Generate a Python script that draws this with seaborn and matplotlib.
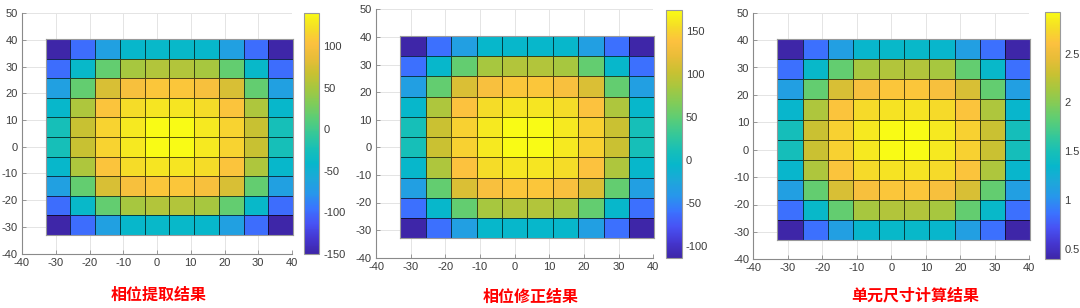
import numpy as np
import matplotlib
matplotlib.use("Agg")
import matplotlib.pyplot as plt
import seaborn as sns
from matplotlib.colors import LinearSegmentedColormap

# ---------------- data ----------------
titles = ["相位提取结果", "相位修正结果", "单元尺寸计算结果"]

x_edges = [-33.0, -25.67, -18.33, -11.0, -3.67, 3.67, 11.0, 18.33, 25.67, 33.0, 40.33]
y_edges = [-33.0, -25.67, -18.33, -11.0, -3.67, 3.67, 11.0, 18.33, 25.67, 33.0, 40.33]

x_ticks = [-40, -30, -20, -10, 0, 10, 20, 30, 40]
y_ticks = [-40, -30, -20, -10, 0, 10, 20, 30, 40, 50]

# rows listed from top (y = 40) to bottom (y = -33)
phase_extracted = [
    [-150, -98, -67, -41, -39, -39, -41, -67, -98, -150],
    [-98, -40, 17, 50, 56, 56, 50, 17, -40, -98],
    [-67, 17, 76, 99, 107, 107, 99, 76, 17, -67],
    [-41, 53, 105, 120, 126, 126, 120, 105, 53, -41],
    [-25, 67, 114, 128, 140, 140, 128, 114, 67, -25],
    [-25, 67, 114, 128, 140, 140, 128, 114, 67, -25],
    [-41, 53, 105, 120, 126, 126, 120, 105, 53, -41],
    [-67, 17, 76, 99, 107, 107, 99, 76, 17, -67],
    [-98, -40, 17, 50, 56, 56, 50, 17, -40, -98],
    [-150, -98, -67, -41, -39, -39, -41, -67, -98, -150],
]

phase_corrected = [
    [-114, -62, -32, -6, -5, -5, -6, -32, -62, -114],
    [-62, -5, 52, 85, 90, 90, 85, 52, -5, -62],
    [-32, 52, 111, 134, 141, 141, 134, 111, 52, -32],
    [-6, 88, 139, 154, 160, 160, 154, 139, 88, -6],
    [10, 102, 148, 162, 174, 174, 162, 148, 102, 10],
    [10, 102, 148, 162, 174, 174, 162, 148, 102, 10],
    [-6, 88, 139, 154, 160, 160, 154, 139, 88, -6],
    [-32, 52, 111, 134, 141, 141, 134, 111, 52, -32],
    [-62, -5, 52, 85, 90, 90, 85, 52, -5, -62],
    [-114, -62, -32, -6, -5, -5, -6, -32, -62, -114],
]

unit_size = [
    [0.39, 0.85, 1.11, 1.34, 1.36, 1.36, 1.34, 1.11, 0.85, 0.39],
    [0.85, 1.36, 1.85, 2.14, 2.19, 2.19, 2.14, 1.85, 1.36, 0.85],
    [1.11, 1.85, 2.37, 2.57, 2.64, 2.64, 2.57, 2.37, 1.85, 1.11],
    [1.34, 2.17, 2.63, 2.75, 2.80, 2.80, 2.75, 2.63, 2.17, 1.34],
    [1.48, 2.30, 2.70, 2.83, 2.93, 2.93, 2.83, 2.70, 2.30, 1.48],
    [1.48, 2.30, 2.70, 2.83, 2.93, 2.93, 2.83, 2.70, 2.30, 1.48],
    [1.34, 2.17, 2.63, 2.75, 2.80, 2.80, 2.75, 2.63, 2.17, 1.34],
    [1.11, 1.85, 2.37, 2.57, 2.64, 2.64, 2.57, 2.37, 1.85, 1.11],
    [0.85, 1.36, 1.85, 2.14, 2.19, 2.19, 2.14, 1.85, 1.36, 0.85],
    [0.39, 0.85, 1.11, 1.34, 1.36, 1.36, 1.34, 1.11, 0.85, 0.39],
]

cbar_ticks = [
    [-150, -100, -50, 0, 50, 100],
    [-100, -50, 0, 50, 100, 150],
    [0.5, 1, 1.5, 2, 2.5],
]
cbar_labels = [
    ["-150", "-100", "-50", "0", "50", "100"],
    ["-100", "-50", "0", "50", "100", "150"],
    ["0.5", "1", "1.5", "2", "2.5"],
]

matrices = [phase_extracted, phase_corrected, unit_size]

# ---------------- style ----------------
parula_anchors = [
    (0.0, (0.2422, 0.1504, 0.6603)),
    (0.0625, (0.2691, 0.2121, 0.8120)),
    (0.125, (0.2810, 0.3228, 0.9579)),
    (0.1875, (0.2285, 0.4522, 0.9993)),
    (0.25, (0.1540, 0.5902, 0.9218)),
    (0.3125, (0.1137, 0.6567, 0.8509)),
    (0.375, (0.0271, 0.7176, 0.7968)),
    (0.4375, (0.0941, 0.7508, 0.7150)),
    (0.5, (0.2161, 0.7843, 0.5923)),
    (0.5625, (0.3571, 0.8039, 0.4633)),
    (0.625, (0.5044, 0.7993, 0.3480)),
    (0.6875, (0.6500, 0.7800, 0.2500)),
    (0.75, (0.7863, 0.7568, 0.1950)),
    (0.8125, (0.9100, 0.7400, 0.2200)),
    (0.875, (0.9892, 0.7564, 0.2465)),
    (0.9375, (0.9600, 0.8700, 0.1500)),
    (1.0, (0.9769, 0.9839, 0.0805)),
]
parula = LinearSegmentedColormap.from_list("parula", parula_anchors, N=256)

sns.set_theme(style="white")
plt.rcParams["font.family"] = ["Liberation Sans", "Noto Sans CJK SC"]
plt.rcParams["axes.unicode_minus"] = False

W, H = 1080, 308
fig = plt.figure(figsize=(W / 100, H / 100), dpi=100)

# pixel boxes: (left, top, right, bottom)
axes_px = [(22, 13.3, 292, 253.5), (376, 9.3, 653.3, 257.7), (753.3, 12.7, 1029.3, 259.3)]
cbar_px = [(304, 12.7, 319, 254), (666, 10, 681.7, 258), (1045, 11.7, 1060, 259.3)]
title_px = [(159, 295), (531, 297), (915, 295)]

def to_frac(box):
    l, t, r, b = box
    return [l / W, (H - b) / H, (r - l) / W, (b - t) / H]

tick_color = "#3c3c3c"
spine_color = "#8a8a8a"

for i in range(3):
    ax = fig.add_axes(to_frac(axes_px[i]))
    cax = fig.add_axes(to_frac(cbar_px[i]))
    ax.set_xlim(-40, 40)
    ax.set_ylim(-40, 50)
    ax.set_xticks(x_ticks)
    ax.set_yticks(y_ticks)
    ax.set_xticklabels([str(v) for v in x_ticks])
    ax.set_yticklabels([str(v) for v in y_ticks])
    ax.grid(True, color="#e4e4e4", linewidth=0.7)
    ax.set_axisbelow(True)
    for s in ["top", "right"]:
        ax.spines[s].set_visible(False)
    for s in ["left", "bottom"]:
        ax.spines[s].set_color(spine_color)
        ax.spines[s].set_linewidth(0.8)
    ax.tick_params(axis="both", direction="in", length=3, width=0.6, color=spine_color,
                   labelsize=8, labelcolor=tick_color, pad=3)
    ax.tick_params(axis="x", bottom=True)
    ax.tick_params(axis="y", left=True)

    data = np.array(matrices[i], dtype=float)
    x0, x1 = x_edges[0], x_edges[-1]
    y0, y1 = y_edges[0], y_edges[-1]
    ax_in = ax.inset_axes([x0, y0, x1 - x0, y1 - y0], transform=ax.transData)
    sns.heatmap(data, ax=ax_in, cmap=parula, vmin=data.min(), vmax=data.max(),
                linewidths=0.5, linecolor=(0.0, 0.0, 0.0, 0.65),
                xticklabels=False, yticklabels=False, cbar=True, cbar_ax=cax)
    ax_in.set_xticks([])
    ax_in.set_yticks([])
    for s in ax_in.spines.values():
        s.set_visible(True)
        s.set_color("#9a9a9a")
        s.set_linewidth(0.8)

    cbar = ax_in.collections[0].colorbar
    cbar.set_ticks(cbar_ticks[i])
    cbar.set_ticklabels(cbar_labels[i])
    cbar.outline.set_edgecolor("#9a9a9a")
    cbar.outline.set_linewidth(0.8)
    cax.tick_params(axis="y", direction="in", length=3, width=0.6, color=spine_color,
                    labelsize=8, labelcolor=tick_color, pad=3, right=True, left=False)

    tx, ty = title_px[i]
    fig.text(tx / W, (H - ty) / H, titles[i], color="#ff0000", fontsize=11.5,
             fontweight="bold", ha="center", va="center",
             family=["Noto Sans CJK SC", "DejaVu Sans"])

fig.savefig("out.png", dpi=100, facecolor="white")
